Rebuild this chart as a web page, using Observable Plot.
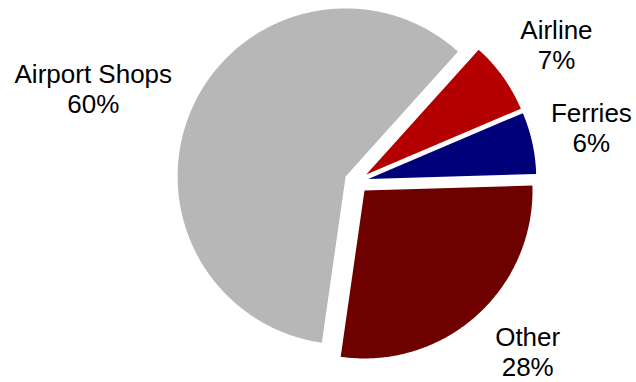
<!DOCTYPE html>
<html><head><meta charset="utf-8">
<script src="https://cdn.jsdelivr.net/npm/d3@7"></script>
<script src="https://cdn.jsdelivr.net/npm/@observablehq/plot@0.6"></script>
<style>body{margin:0;background:#fff}</style>
</head><body><div id="chart"></div>
<script>
// ---- data ----
const categories = ["Airline", "Ferries", "Other", "Airport Shops"];
const shares = [7, 6, 28, 60];
const shareLabels = ["7%", "6%", "28%", "60%"];

// ---- layout / style ----
const W = 636, H = 382;
const CX = 356, CY = 181;        // pie centre in px
const R = 168, EXPLODE = 12, START_DEG = 42;
const palette = ["#b40000", "#00007a", "#6e0000", "#b7b7b7"];
const LABEL_R = 242;
const nudge = {"Airline": [3, -4], "Ferries": [-1.5, 2], "Other": [10, 11], "Airport Shops": [-44, -9]};

const rows = categories.map((c, i) => ({name: c, value: shares[i], label: shareLabels[i]}));
const a0 = START_DEG * Math.PI / 180;
const arcs = d3.pie().sort(null).value(d => d.value).startAngle(a0).endAngle(a0 + 2 * Math.PI)(rows);

const pts = [];
const labelRows = [];
for (const a of arcs) {
  const name = a.data.name;
  const mid = (a.startAngle + a.endAngle) / 2;
  const ox = EXPLODE * Math.sin(mid), oy = EXPLODE * Math.cos(mid);
  pts.push({name, x: ox, y: oy});
  const n = Math.ceil((a.endAngle - a.startAngle) / (Math.PI / 360));
  for (let k = 0; k <= n; k++) {
    const t = a.startAngle + (a.endAngle - a.startAngle) * k / n;
    pts.push({name, x: ox + R * Math.sin(t), y: oy + R * Math.cos(t)});
  }
  pts.push({name, x: ox, y: oy});
  const nd = nudge[name] || [0, 0];
  labelRows.push({name, x: LABEL_R * Math.sin(mid) + nd[0], y: LABEL_R * Math.cos(mid) + nd[1], text: name + "\n" + a.data.label});
}

const chart = Plot.plot({
  width: W, height: H, margin: 0,
  x: {domain: [-CX, W - CX], axis: null},
  y: {domain: [CY - H, CY], axis: null},
  color: {domain: categories, range: palette},
  style: {fontFamily: "'Liberation Sans', Arial, sans-serif", background: "white"},
  marks: [
    Plot.line(pts, {x: "x", y: "y", z: "name", fill: "name", stroke: "none", curve: "linear"}),
    Plot.text(labelRows, {x: "x", y: "y", text: "text", fontSize: 26, lineHeight: 30 / 26, fill: "black", textAnchor: "middle"})
  ]
});
document.getElementById("chart").appendChild(chart);
</script>
</body></html>
